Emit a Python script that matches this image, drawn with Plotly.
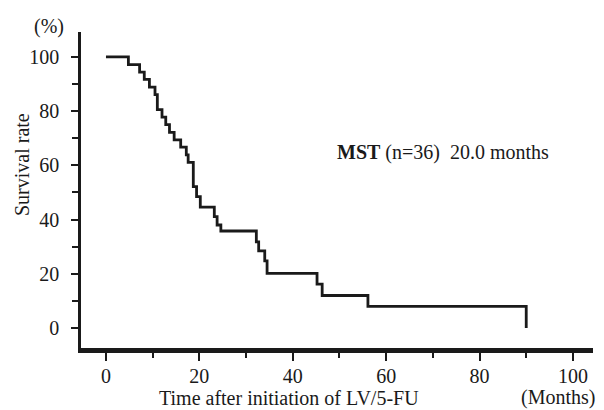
import plotly.graph_objects as go

# Kaplan-Meier steps (months, survival %)
months = [0, 4.8, 7.2, 8.2, 9.3, 10.5, 11.0, 12.0, 12.8, 13.6, 14.6, 16.0, 17.2, 17.6,
          18.7, 19.4, 20.2, 23.2, 23.8, 24.6, 32.2, 32.7, 34.0, 34.5, 45.2, 46.3, 56.1, 90.0]
survival = [100, 97.2, 94.4, 91.7, 88.9, 86.1, 80.6, 77.8, 75.0, 72.2, 69.4, 66.7, 63.9, 61.1,
            52.2, 48.5, 44.6, 41.1, 38.0, 35.8, 31.8, 28.5, 24.8, 20.2, 16.2, 12.0, 8.0, 0.0]

x_ticks = [0, 20, 40, 60, 80, 100]
y_ticks = [0, 20, 40, 60, 80, 100]

FONT = "Liberation Serif"
W, H = 604, 410
L, R, T, B = 81, 11, 32, 60
PW, PH = W - L - R, H - T - B

def px(x):
    return (x - L) / PW

def py(y):
    return (H - B - y) / PH

fig = go.Figure()
fig.add_trace(go.Scatter(x=months, y=survival, mode="lines", line_shape="hv",
                         line=dict(color="#1a1a1a", width=2.8), showlegend=False,
                         hoverinfo="skip"))

fig.update_layout(
    width=W, height=H,
    margin=dict(l=L, r=R, t=T, b=B),
    paper_bgcolor="white", plot_bgcolor="white",
    font=dict(family=FONT, size=20, color="#1a1a1a"),
    showlegend=False,
)
fig.update_xaxes(range=[-5.35, 104.3], tickvals=x_ticks, ticktext=[str(v) for v in x_ticks],
                 showgrid=False, zeroline=False, showline=True, linecolor="#1a1a1a", linewidth=2.5,
                 ticks="outside", ticklen=8, tickwidth=2, tickcolor="#1a1a1a",
                 minor=dict(tickvals=[10, 30, 50, 70, 90], ticks="outside", ticklen=5,
                            tickwidth=2, tickcolor="#1a1a1a"),
                 tickfont=dict(family=FONT, size=20, color="#1a1a1a"), ticklabelstandoff=-2)
fig.update_yaxes(range=[-8.1, 109.2], tickvals=y_ticks, ticktext=[str(v) for v in y_ticks],
                 showgrid=False, zeroline=False, showline=True, linecolor="#1a1a1a", linewidth=2.5,
                 ticks="outside", ticklen=7, tickwidth=2, tickcolor="#1a1a1a",
                 minor=dict(tickvals=[10, 30, 50, 70, 90], ticks="outside", ticklen=6,
                            tickwidth=2, tickcolor="#1a1a1a"),
                 tickfont=dict(family=FONT, size=20, color="#1a1a1a"), ticklabelstandoff=8)

# bottom axis baseline (drawn explicitly, slightly inside the plot edge)
fig.add_shape(type="line", xref="paper", yref="paper", x0=-0.002, x1=1, y0=0.002, y1=0.002,
              line=dict(color="#1a1a1a", width=2.5), layer="above")

ann = dict(xref="paper", yref="paper", showarrow=False, font=dict(family=FONT, size=20, color="#1a1a1a"))
fig.add_annotation(text="(%)", x=px(49), y=py(26), xanchor="center", yanchor="middle", **ann)
fig.add_annotation(text="Survival rate", x=px(22), y=py(165), xanchor="center", yanchor="middle",
                   textangle=-90, **ann)
fig.add_annotation(text="Time after initiation of LV/5-FU", x=px(289), y=py(398),
                   xanchor="center", yanchor="middle", **ann)
fig.add_annotation(text="(Months)", x=px(558), y=py(397), xanchor="center", yanchor="middle", **ann)
fig.add_annotation(text="<b>MST</b> (n=36)&nbsp; 20.0 months", x=px(335), y=py(152),
                   xanchor="left", yanchor="middle", **ann)

fig.write_html("out.html", config={"displayModeBar": False},
               post_script="document.body.style.margin='0';document.body.style.overflow='hidden';")
